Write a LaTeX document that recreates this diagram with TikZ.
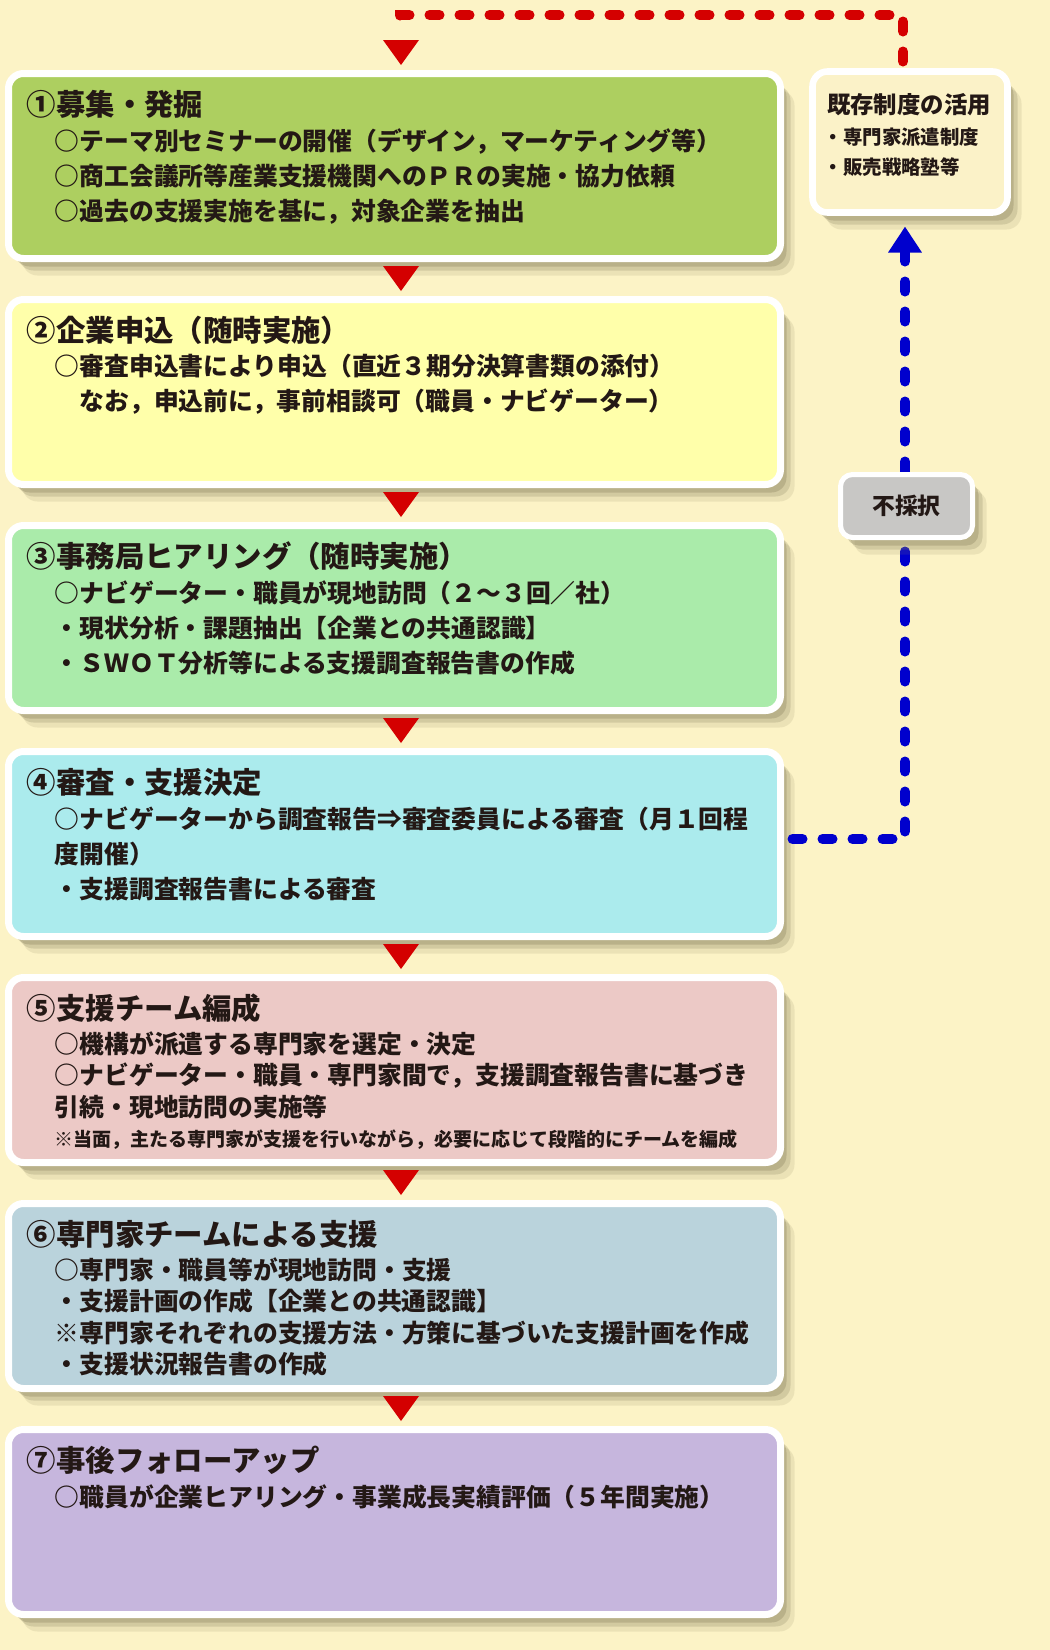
\documentclass[tikz,border=0pt]{standalone}
\usepackage{fontspec}
\setmainfont{Noto Sans CJK JP}
\usepackage{tikz}
\usetikzlibrary{arrows.meta,positioning,calc,shadows}

\definecolor{bgcol}{HTML}{FCF3C6}
\definecolor{txtcol}{HTML}{231815}
\definecolor{shadowcol}{HTML}{8C8460}
\definecolor{flowred}{HTML}{D40000}
\definecolor{flowblue}{HTML}{0000CD}
\definecolor{boxgreen}{HTML}{ADCF60}
\definecolor{boxyellow}{HTML}{FFFFAA}
\definecolor{boxmint}{HTML}{AAEBAA}
\definecolor{boxcyan}{HTML}{ABEBED}
\definecolor{boxpink}{HTML}{ECC9C6}
\definecolor{boxslate}{HTML}{BAD3DC}
\definecolor{boxlilac}{HTML}{C6B6DD}
\definecolor{boxcream}{HTML}{FBF2C8}
\definecolor{boxgray}{HTML}{C8C7C5}

\tikzset{
  softshadow/.style={
    drop shadow={shadow xshift=3pt,shadow yshift=-4pt,fill=shadowcol,opacity=.35},
    drop shadow={shadow xshift=5pt,shadow yshift=-6pt,fill=shadowcol,opacity=.25},
    drop shadow={shadow xshift=7pt,shadow yshift=-8.5pt,fill=shadowcol,opacity=.15}},
  stepbox/.style={softshadow,draw=white,line width=3.5pt,rounded corners=7.5pt,
    inner sep=0pt,outer sep=0pt,minimum width=386pt,minimum height=92.5pt},
  sidebox/.style={softshadow,draw=white,line width=3.3pt,rounded corners=7.5pt,
    inner sep=0pt,outer sep=0pt,fill=boxcream,minimum width=97.5pt,minimum height=70.5pt},
  rejectbox/.style={softshadow,draw=white,line width=2.5pt,rounded corners=6pt,
    inner sep=0pt,outer sep=0pt,fill=boxgray,minimum width=66pt,minimum height=31.5pt,
    text=txtcol,font=\fontsize{11.4}{13}\selectfont\bfseries},
  headtext/.style={anchor=west,inner sep=0pt,text=txtcol,font=\fontsize{14.7}{17}\selectfont\bfseries},
  bodytext/.style={anchor=north west,inner sep=0pt,align=left,text=txtcol,
    font=\fontsize{12.4}{17.5}\selectfont\bfseries},
  tighttext/.style={bodytext,font=\fontsize{12.4}{15.75}\selectfont\bfseries},
  notetext/.style={anchor=west,inner sep=0pt,text=txtcol,font=\fontsize{9.5}{11}\selectfont\bfseries},
  sidehead/.style={inner sep=0pt,text=txtcol,font=\fontsize{11.7}{14}\selectfont\bfseries},
  sidetext/.style={anchor=north west,inner sep=0pt,align=left,text=txtcol,
    font=\fontsize{9.7}{15}\selectfont\bfseries},
  flowdash/.style={line width=5pt,line cap=round,dash pattern=on 5pt off 10pt}
}

\begin{document}
\begin{tikzpicture}[x=0.5pt,y=-0.5pt]
  \fill[bgcol] (0,0) rectangle (1050,1650);
  \useasboundingbox (0,0) rectangle (1050,1650);

  % step boxes
  \node[stepbox,fill=boxgreen]  (b1) at (394.5,166)  {};
  \node[stepbox,fill=boxyellow] (b2) at (394.5,392)  {};
  \node[stepbox,fill=boxmint]   (b3) at (394.5,618)  {};
  \node[stepbox,fill=boxcyan]   (b4) at (394.5,844)  {};
  \node[stepbox,fill=boxpink]   (b5) at (394.5,1070) {};
  \node[stepbox,fill=boxslate]  (b6) at (394.5,1296) {};
  \node[stepbox,fill=boxlilac]  (b7) at (394.5,1522) {};

  % red arrow heads
  \foreach \i in {0,...,6}{
     \fill[flowred] (383,{40+226*\i}) -- (419,{40+226*\i}) -- (401,{65+226*\i}) -- cycle;
  }

  \node[headtext] (h1) at ($(b1.north west)+(18,30.5)$) {①募集・発掘};
  \node[bodytext] (t1) at ($(b1.north west)+(46,54.5)$)
    {○テーマ別セミナーの開催（デザイン，マーケティング等）\\
     ○商工会議所等産業支援機関へのＰＲの実施・協力依頼\\
     ○過去の支援実施を基に，対象企業を抽出};

  \node[headtext] (h2) at ($(b2.north west)+(18,30.5)$) {②企業申込（随時実施）};
  \node[bodytext] (t2) at ($(b2.north west)+(46,54.5)$)
    {○審査申込書により申込（直近３期分決算書類の添付）\\
     　なお，申込前に，事前相談可（職員・ナビゲーター）};

  \node[headtext] (h3) at ($(b3.north west)+(18,30.5)$) {③事務局ヒアリング（随時実施）};
  \node[bodytext] (t3) at ($(b3.north west)+(46,54.5)$)
    {○ナビゲーター・職員が現地訪問（２～３回／社）\\
     ・現状分析・課題抽出【企業との共通認識】\\
     ・ＳＷＯＴ分析等による支援調査報告書の作成};

  \node[headtext] (h4) at ($(b4.north west)+(18,30.5)$) {④審査・支援決定};
  \node[bodytext] (t4) at ($(b4.north west)+(46,54.5)$)
    {○ナビゲーターから調査報告⇒審査委員による審査（月１回程\\
     度開催）\\
     ・支援調査報告書による審査};

  \node[headtext] (h5) at ($(b5.north west)+(18,30.5)$) {⑤支援チーム編成};
  \node[tighttext] (t5) at ($(b5.north west)+(46,53.5)$)
    {○機構が派遣する専門家を選定・決定\\
     ○ナビゲーター・職員・専門家間で，支援調査報告書に基づき\\
     引続・現地訪問の実施等};
  \node[notetext] (n5) at ($(b5.north west)+(46,162)$)
    {※当面，主たる専門家が支援を行いながら，必要に応じて段階的にチームを編成};

  \node[headtext] (h6) at ($(b6.north west)+(18,30.5)$) {⑥専門家チームによる支援};
  \node[tighttext] (t6) at ($(b6.north west)+(46,53.5)$)
    {○専門家・職員等が現地訪問・支援\\
     ・支援計画の作成【企業との共通認識】\\
     ※専門家それぞれの支援方法・方策に基づいた支援計画を作成\\
     ・支援状況報告書の作成};

  \node[headtext] (h7) at ($(b7.north west)+(18,30.5)$) {⑦事後フォローアップ};
  \node[bodytext] (t7) at ($(b7.north west)+(46,54.5)$)
    {○職員が企業ヒアリング・事業成長実績評価（５年間実施）};

  % existing schemes
  \node[sidebox] (ex) at (910,142) {};
  \node[sidehead] (exh) at ($(ex.north)+(-1,33.5)$) {既存制度の活用};
  \node[sidetext] (ext) at ($(ex.north west)+(11,56.5)$)
    {・専門家派遣制度\\
     ・販売戦略塾等};

  % loops
  \coordinate (redcorner) at (400,15);
  \coordinate (redend) at (400,28);
  \draw[flowdash,flowred] ([xshift=-3.5pt,yshift=5pt]ex.north) |- (redcorner) -- (redend);
  \draw[flowdash,flowblue,-{Triangle[length=13pt,width=16pt]}]
    ([xshift=6pt,yshift=2.5pt]b4.east) -| ([xshift=-2.5pt,yshift=-7pt]ex.south);
  \node[rejectbox] (rej) at (906.5,506) {不採択};
\end{tikzpicture}
\end{document}
